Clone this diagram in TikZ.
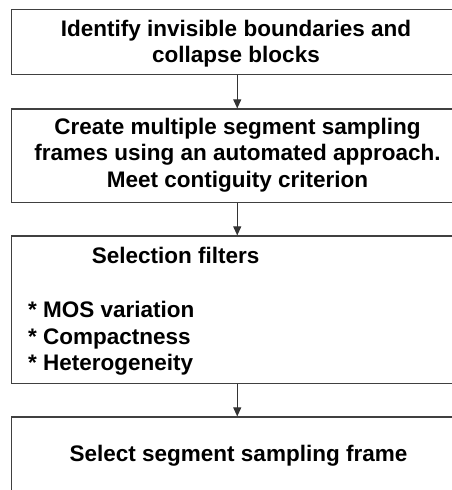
\documentclass[tikz,border=0pt]{standalone}
\usepackage{fontspec}
\setmainfont{Liberation Sans}
\usetikzlibrary{arrows.meta}
\begin{document}
\begin{tikzpicture}[x=1pt,y=-1pt,
  boxstyle/.style={draw=black!75,line width=1.2pt,rectangle,inner sep=0pt,minimum width=451.5pt},
  txt/.style={font=\fontsize{22.5}{26.5}\selectfont\bfseries,inner sep=0pt,anchor=base},
  txtl/.style={txt,anchor=base west},
  arr/.style={draw=black!80,line width=1pt,-{Triangle[length=9pt,width=8pt]}}]
\useasboundingbox (0,0) rectangle (452,490);
\clip (0,0) rectangle (452,490);
\node[boxstyle,minimum height=65pt] (box1) at (237.25,42) {};
\node[boxstyle,minimum height=93.3pt] (box2) at (237.25,155.65) {};
\node[boxstyle,minimum height=147.3pt] (box3) at (237.25,309.65) {};
\node[boxstyle,minimum height=103pt] (box4) at (237.25,468.5) {};
\node[txt] (t1a) at (236,36) {Identify invisible boundaries and};
\node[txt] (t1b) at (236,62.5) {collapse blocks};
\node[txt] (t2a) at (237.5,134) {Create multiple segment sampling};
\node[txt] (t2b) at (237.5,160.5) {frames using an automated approach.};
\node[txt] (t2c) at (237.5,187) {Meet contiguity criterion};
\node[txtl] (t3a) at (91.7,263) {Selection filters};
\node[txtl] (t3b) at (28,317.7) {* MOS variation};
\node[txtl] (t3c) at (28,344.2) {* Compactness};
\node[txtl] (t3d) at (28,370.7) {* Heterogeneity};
\node[txt] (t4a) at (238.5,461.5) {Select segment sampling frame};
\draw[arr] (box1) -- (box2);
\draw[arr] (box2) -- (box3);
\draw[arr] (box3) -- (box4);
\end{tikzpicture}
\end{document}
